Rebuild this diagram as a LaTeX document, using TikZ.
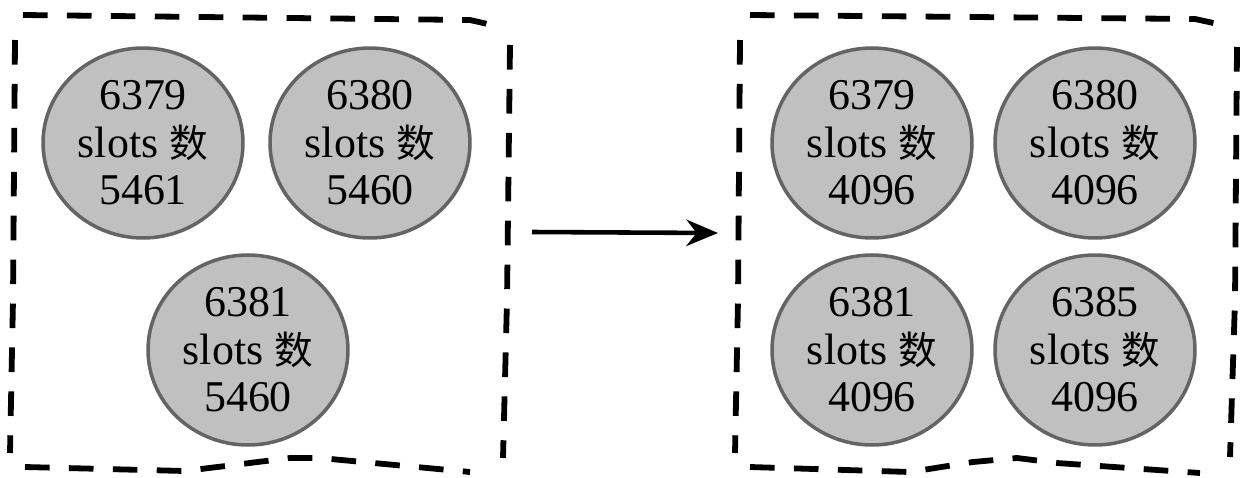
\documentclass[tikz,border=0pt]{standalone}
\usepackage{fontspec}
\setmainfont{Liberation Serif}
\newfontfamily\cjk[Scale=0.88]{Noto Sans CJK SC}
\usetikzlibrary{arrows.meta,shapes.geometric}
\definecolor{mygray}{RGB}{192,192,192}
\definecolor{myedge}{RGB}{100,100,100}

\begin{document}
\begin{tikzpicture}[x=0.02cm, y=-0.02cm,
    slot/.style={ellipse, draw=myedge, line width=2pt, fill=mygray, minimum width=4cm, minimum height=3.8cm, inner sep=0pt, align=center, font=\fontsize{25}{27}\selectfont},
    border/.style={line width=3.3pt, dash pattern=on 14pt off 11pt}]
            \useasboundingbox (0,0) rectangle (1251,477);

            % before: three nodes
            \draw[border] (23,15) -- (470,20) -- (492,25);
            \draw[border] (510,45) -- (507,300) -- (503,458);
            \draw[border] (25,467) -- (185,471) -- (290,458) -- (320,458) -- (470,472);
            \draw[border] (15,40) -- (13,300) -- (10,453);

            \node[slot] (l1) at (143,143) {6379\\slots {\cjk 数}\\5461};
            \node[slot] (l2) at (370,143) {6380\\slots {\cjk 数}\\5460};
            \node[slot] (l3) at (248,350) {6381\\slots {\cjk 数}\\5460};

            % after: four nodes
            \draw[border] (750,15) -- (1195,19) -- (1218,24);
            \draw[border] (1237,47) -- (1235,300) -- (1230,457);
            \draw[border] (750,467) -- (910,472) -- (973,462) -- (1017,458) -- (1057,463) -- (1200,473);
            \draw[border] (740,40) -- (738,300) -- (735,453);

            \node[slot] (r1) at (872,143) {6379\\slots {\cjk 数}\\4096};
            \node[slot] (r2) at (1095,143) {6380\\slots {\cjk 数}\\4096};
            \node[slot] (r3) at (872,350) {6381\\slots {\cjk 数}\\4096};
            \node[slot] (r4) at (1095,350) {6385\\slots {\cjk 数}\\4096};

            \coordinate (src) at (532,232);
            \coordinate (dst) at (718,233);
            \draw[-{Stealth[length=18pt,width=15pt]}, line width=2.6pt] (src) -- (dst);
        \end{tikzpicture}
\end{document}
